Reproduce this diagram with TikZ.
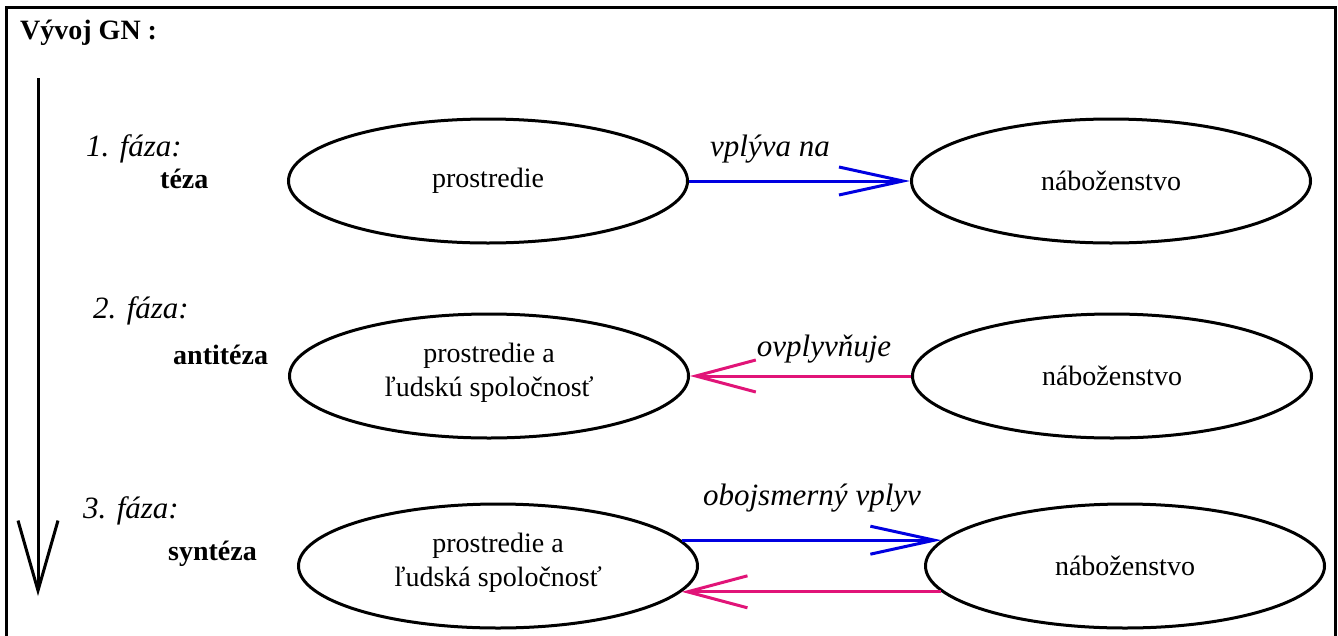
\documentclass[tikz,border=0pt]{standalone}
\usepackage{fontspec}
\setmainfont{Liberation Serif}
\usetikzlibrary{shapes.geometric,arrows.meta}
\definecolor{arrblue}{RGB}{0,0,225}
\definecolor{arrpink}{RGB}{225,20,120}
\begin{document}
\begin{tikzpicture}[x=1pt,y=-1pt,
  oval/.style={ellipse,draw=black,line width=3pt,minimum width=399pt,minimum height=124pt,inner sep=0pt,
    font=\fontsize{28}{34}\selectfont,align=center},
  phase/.style={anchor=base west,inner sep=0pt,font=\fontsize{31}{36}\selectfont\itshape},
  stage/.style={anchor=base west,inner sep=0pt,font=\fontsize{28}{34}\selectfont\bfseries},
  rel/.style={anchor=base,inner sep=0pt,font=\fontsize{31}{36}\selectfont\itshape},
  bluearr/.style={draw=arrblue,line width=3pt,-{Straight Barb[length=64pt,width=28pt]}},
  pinkarr/.style={draw=arrpink,line width=3pt,-{Straight Barb[length=60pt,width=32pt]}},
  timearr/.style={draw=black,line width=3pt,-{Straight Barb[length=70pt,width=40pt]}}
]
\useasboundingbox (0,0) rectangle (1338,635);
% frame
\draw[line width=3pt] (6,645) -- (6,7) -- (1335,7) -- (1335,645);
% title
\node[anchor=base west,inner sep=0pt,font=\fontsize{28}{34}\selectfont\bfseries] (title) at (20,39) {Vývoj GN :};
% time arrow
\coordinate (tstart) at (38,78);
\coordinate (tend) at (38,596);
\draw[timearr] (tstart) -- (tend);
% phase labels
\node[phase] (f1) at (86,156) {1. fáza:};
\node[stage] (s1) at (160,188) {téza};
\node[phase] (f2) at (93,318) {2. fáza:};
\node[stage] (s2) at (173,364) {antitéza};
\node[phase] (f3) at (83,518) {3. fáza:};
\node[stage] (s3) at (168,560) {syntéza};
% ellipses
\node[oval] (e1) at (488,181) {prostredie};
\node[oval] (e2) at (1111,181) {náboženstvo};
\node[oval,text depth=12pt] (e3) at (489,376) {prostredie a\\ľudskú spoločnosť};
\node[oval] (e4) at (1112,376) {náboženstvo};
\node[oval,text depth=12pt] (e5) at (498,566) {prostredie a\\ľudská spoločnosť};
\node[oval] (e6) at (1125,566) {náboženstvo};
% connectors
\draw[bluearr] (e1) -- (e2);
\draw[pinkarr] (e4) -- (e3);
\draw[bluearr] (e5.8) -- (e6.172 |- e5.8);
\draw[pinkarr] (e6.188.4) -- (e5.-8 |- e6.188.4);
% connector labels
\node[rel] (l1) at (770,156) {vplýva na};
\node[rel] (l2) at (824,356) {ovplyvňuje};
\node[rel] (l3) at (812,505) {obojsmerný vplyv};
\end{tikzpicture}
\end{document}
